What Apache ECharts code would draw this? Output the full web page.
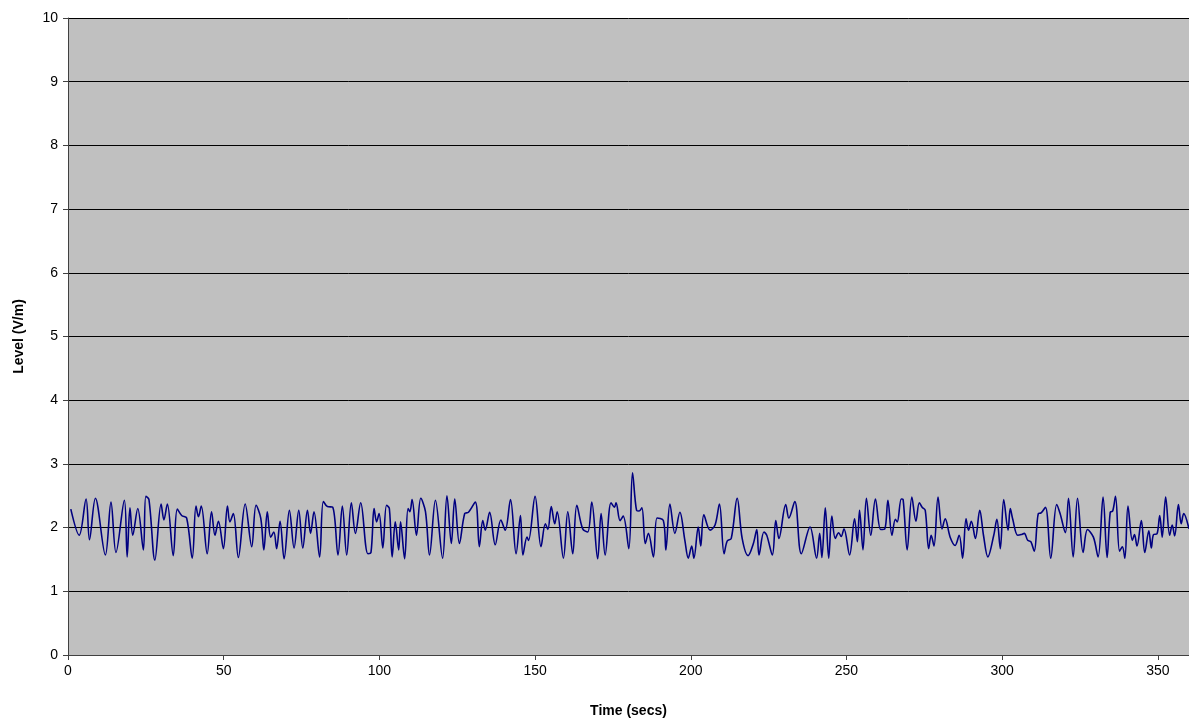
<!DOCTYPE html>
<html>
<head>
<meta charset="utf-8">
<script src="https://cdn.jsdelivr.net/npm/echarts@6/dist/echarts.min.js"></script>
<style>html,body{margin:0;padding:0;background:#fff}#c{width:1189px;height:723px}</style>
</head>
<body>
<div id="c"></div>
<script>
const times = [0.9,3.6,5.8,6.9,8.8,12.0,13.8,15.4,18.1,19.0,19.9,20.8,22.4,24.2,25.0,26.0,27.9,29.9,30.8,31.9,33.8,35.1,36.5,38.1,39.9,41.1,41.9,42.8,44.7,46.1,47.2,48.3,49.9,51.2,52.0,53.1,54.7,56.9,59.0,60.4,61.9,62.9,64.0,65.1,66.1,67.0,68.1,69.4,71.1,72.6,74.1,75.4,76.9,77.9,79.0,80.8,82.0,83.3,85.0,86.7,88.1,89.5,91.0,92.3,94.0,96.3,97.3,98.3,99.1,99.9,101.1,102.3,103.2,104.1,105.1,106.2,106.8,108.1,109.2,109.8,110.5,111.9,113.3,114.8,116.1,118.0,120.3,121.7,123.1,124.2,125.7,127.4,128.6,130.8,132.1,133.2,134.0,135.4,137.2,139.0,140.4,142.1,143.9,145.3,146.1,147.4,147.9,150.0,151.9,153.3,154.1,155.2,156.3,157.1,159.1,160.5,162.1,163.4,165.3,166.9,168.2,170.1,171.2,172.5,174.4,175.5,176.0,177.3,178.3,180.1,181.3,182.6,183.4,184.3,185.4,186.4,188.0,189.2,191.2,192.0,193.3,194.9,196.5,198.1,199.2,200.3,201.0,202.4,203.2,204.2,206.2,207.8,209.2,210.7,211.7,213.0,214.9,216.5,218.4,220.1,221.2,221.9,223.5,224.4,226.2,227.3,228.3,230.5,231.5,233.4,235.5,238.3,240.4,241.4,242.1,243.2,244.3,245.3,246.4,247.5,248.3,249.2,251.0,252.6,253.5,254.2,255.3,256.4,257.8,259.3,261.0,262.3,263.3,264.6,265.7,266.3,267.6,268.2,269.5,271.0,272.3,273.4,274.3,275.3,276.4,277.2,278.1,279.4,280.7,281.7,283.3,284.9,286.2,287.3,288.4,289.2,290.1,291.4,292.8,294.0,295.4,297.3,298.3,299.4,300.5,301.9,302.6,303.4,305.0,306.1,307.1,308.2,309.2,310.3,311.6,312.5,313.9,315.6,317.5,318.6,320.3,321.3,322.8,324.2,326.0,327.4,329.3,330.8,332.4,333.7,334.7,335.5,336.4,337.7,338.6,339.4,340.4,341.8,342.5,343.3,344.7,345.8,347.1,347.9,348.6,349.7,350.6,351.4,352.5,353.8,354.6,355.4,356.6,357.5,358.3,360.0];
const levels = [2.29,1.88,2.45,1.81,2.46,1.57,2.40,1.61,2.43,1.54,2.31,1.88,2.30,1.65,2.49,2.44,1.49,2.37,2.12,2.37,1.56,2.29,2.19,2.15,1.52,2.34,2.17,2.34,1.59,2.25,1.88,2.10,1.67,2.34,2.09,2.22,1.53,2.37,1.70,2.35,2.15,1.65,2.25,1.85,1.93,1.67,2.10,1.51,2.27,1.68,2.27,1.68,2.27,1.91,2.25,1.54,2.41,2.33,2.32,1.57,2.34,1.57,2.39,1.91,2.39,1.59,1.61,2.30,2.09,2.22,1.68,2.35,2.30,1.54,2.09,1.65,2.09,1.51,2.30,2.25,2.44,1.88,2.46,2.25,1.57,2.43,1.52,2.50,1.75,2.45,1.75,2.22,2.24,2.40,1.70,2.11,1.96,2.24,1.73,2.12,1.96,2.44,1.59,2.19,1.57,1.85,1.80,2.49,1.70,2.06,1.97,2.33,2.06,2.25,1.52,2.25,1.59,2.35,1.98,1.93,2.40,1.51,2.22,1.57,2.39,2.32,2.39,2.11,2.18,1.67,2.86,2.27,2.26,2.31,1.75,1.91,1.54,2.15,2.11,1.65,2.37,1.91,2.24,1.80,1.52,1.71,1.52,2.01,1.71,2.20,1.96,2.04,2.37,1.59,1.79,1.83,2.46,1.83,1.56,1.75,1.97,1.57,1.93,1.88,1.57,2.11,1.83,2.36,2.15,2.41,1.59,2.01,1.52,1.91,1.53,2.31,1.52,2.18,1.83,1.92,1.86,1.98,1.57,2.14,1.78,2.27,1.65,2.46,1.88,2.45,1.97,1.98,2.43,1.88,2.13,2.09,2.45,2.44,1.65,2.48,2.10,2.39,2.32,2.27,1.67,1.88,1.71,2.48,1.98,2.14,1.85,1.72,1.88,1.52,2.14,1.96,2.10,1.83,2.27,1.88,1.54,1.88,2.13,1.67,2.44,1.96,2.30,2.13,1.88,1.89,1.91,1.80,1.78,1.63,2.22,2.23,2.32,1.52,2.36,2.22,1.92,2.46,1.54,2.46,1.61,1.97,1.85,1.54,2.48,1.53,2.24,2.26,2.49,1.63,1.70,1.52,2.34,1.80,1.89,1.71,2.11,1.61,1.95,1.68,1.89,1.90,2.19,1.85,2.48,1.88,2.04,1.87,2.36,2.06,2.22,1.98];
const xTicks = [0,50,100,150,200,250,300,350];
const yTicks = [0,1,2,3,4,5,6,7,8,9,10];

const chart = echarts.init(document.getElementById('c'), null, {renderer:'canvas'});
const data = times.map((t,i)=>[t, levels[i]]);
const font = 'Arial, "Liberation Sans", sans-serif';
chart.setOption({
  animation:false,
  backgroundColor:'#ffffff',
  grid:{left:68,right:0,top:18,bottom:64,show:true,backgroundColor:'#c0c0c0',borderWidth:0},
  xAxis:{
    type:'value',min:0,max:360,interval:50,
    name:'Time (secs)',nameLocation:'middle',nameGap:49,
    nameTextStyle:{fontFamily:font,fontSize:14,fontWeight:'bold',color:'#000'},
    axisLine:{show:true,lineStyle:{color:'#404040',width:1}},
    axisTick:{show:true,length:5,lineStyle:{color:'#404040'}},
    axisLabel:{showMaxLabel:false,fontFamily:font,fontSize:14,color:'#000',margin:9},
    splitLine:{show:false}
  },
  yAxis:{
    type:'value',min:0,max:10,interval:1,
    name:'Level (V/m)',nameLocation:'middle',nameGap:42,nameRotate:90,
    nameTextStyle:{fontFamily:font,fontSize:14,fontWeight:'bold',color:'#000'},
    axisLine:{show:true,lineStyle:{color:'#404040',width:1}},
    axisTick:{show:true,length:5,lineStyle:{color:'#404040'}},
    axisLabel:{fontFamily:font,fontSize:14,color:'#000',margin:10},
    splitLine:{show:true,lineStyle:{color:'#000000',width:1}}
  },
  series:[{
    type:'line',data:data,smooth:0.35,symbol:'none',
    lineStyle:{color:'#000080',width:1.6}
  }]
});
</script>
</body>
</html>
